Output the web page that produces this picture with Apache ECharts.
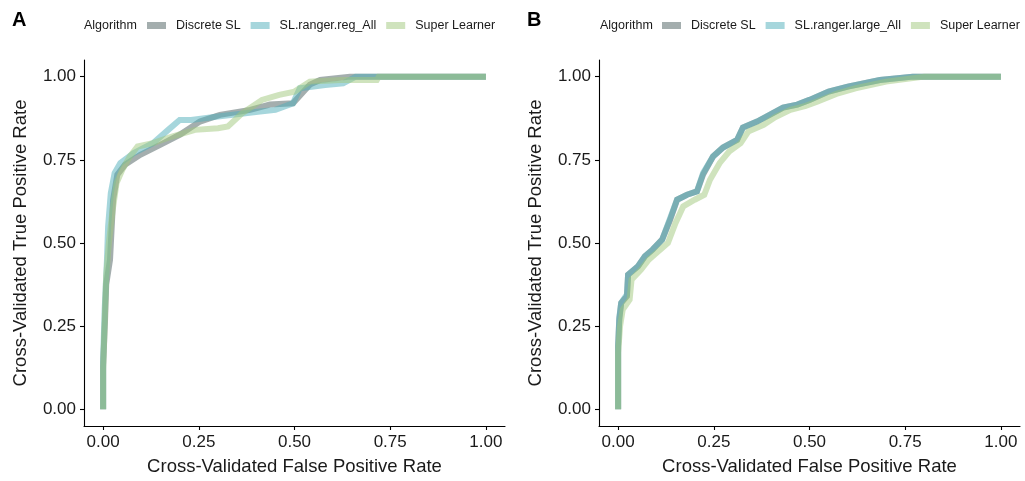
<!DOCTYPE html>
<html>
<head>
<meta charset="utf-8">
<script src="https://cdn.jsdelivr.net/npm/echarts@6/dist/echarts.min.js"></script>
<style>html,body{margin:0;padding:0;background:#fff;}#c{width:1025px;height:481px;}</style>
</head>
<body>
<div id="c"></div>
<script>
// ---- data ----
const tickValues = [0, 0.25, 0.5, 0.75, 1];
const algorithmsA = ['Discrete SL', 'SL.ranger.reg_All', 'Super Learner'];
const algorithmsB = ['Discrete SL', 'SL.ranger.large_All', 'Super Learner'];

const aDiscreteFpr = [0,0,0.005,0.008,0.018,0.026,0.037,0.057,0.097,0.149,0.201,0.253,0.305,0.384,0.436,0.496,0.54,0.567,0.645,1];
const aDiscreteTpr = [0,0.13,0.27,0.375,0.45,0.63,0.705,0.735,0.765,0.795,0.826,0.865,0.885,0.9,0.916,0.92,0.976,0.99,1,1];
const aRangerFpr = [0,0,0.004,0.01,0.013,0.02,0.03,0.045,0.08,0.13,0.17,0.2,0.23,0.3,0.41,0.45,0.496,0.514,0.58,0.627,0.66,1];
const aRangerTpr = [0,0.15,0.3,0.45,0.55,0.65,0.71,0.74,0.77,0.8,0.84,0.87,0.87,0.88,0.895,0.9,0.92,0.965,0.975,0.98,1,1];
const aSuperFpr = [0,0,0.004,0.008,0.015,0.025,0.035,0.05,0.07,0.09,0.13,0.18,0.24,0.3,0.326,0.363,0.415,0.46,0.5,0.54,0.62,0.715,0.72,1];
const aSuperTpr = [0,0.12,0.26,0.4,0.5,0.6,0.68,0.72,0.76,0.79,0.80,0.82,0.84,0.845,0.85,0.89,0.93,0.945,0.955,0.985,0.99,0.99,1,1];

const bDiscreteFpr = [0,0,0.003,0.008,0.023,0.026,0.052,0.07,0.09,0.115,0.136,0.154,0.18,0.206,0.222,0.248,0.274,0.311,0.326,0.363,0.397,0.431,0.468,0.5,0.55,0.6,0.684,0.77,1];
const bDiscreteTpr = [0,0.19,0.27,0.32,0.34,0.405,0.43,0.46,0.48,0.51,0.57,0.63,0.645,0.655,0.706,0.76,0.787,0.81,0.847,0.865,0.886,0.907,0.916,0.93,0.955,0.97,0.99,1,1];
const bRangerFpr = [0,0,0.003,0.008,0.023,0.026,0.052,0.07,0.09,0.115,0.136,0.154,0.18,0.206,0.222,0.248,0.274,0.311,0.326,0.363,0.397,0.431,0.468,0.5,0.55,0.6,0.684,0.77,1];
const bRangerTpr = [0,0.19,0.275,0.32,0.345,0.405,0.43,0.46,0.48,0.51,0.575,0.63,0.645,0.655,0.71,0.76,0.787,0.81,0.847,0.865,0.886,0.907,0.916,0.93,0.955,0.97,0.99,1,1];
const bSuperFpr = [0,0,0.005,0.012,0.03,0.035,0.06,0.08,0.1,0.13,0.15,0.17,0.2,0.225,0.24,0.265,0.29,0.32,0.34,0.38,0.41,0.45,0.49,0.52,0.57,0.62,0.7,0.8,1];
const bSuperTpr = [0,0.17,0.25,0.3,0.33,0.39,0.42,0.45,0.47,0.5,0.56,0.61,0.63,0.645,0.69,0.74,0.775,0.8,0.835,0.855,0.878,0.9,0.912,0.925,0.948,0.965,0.985,1,1];

// ---- styling ----
const FONT = '"Liberation Sans", Arial, Helvetica, sans-serif';
const colGray = 'rgba(73,93,93,0.5)';
const colBlue = 'rgba(77,173,185,0.5)';
const colGreen = 'rgba(159,199,123,0.5)';

function pairs(xs, ys) { return xs.map((x, i) => [x, ys[i]]); }

function mkX(gi) {
  return {
    type: 'value', gridIndex: gi, min: -0.05, max: 1.05,
    name: 'Cross-Validated False Positive Rate', nameLocation: 'middle', nameGap: 31,
    nameTextStyle: { fontFamily: FONT, fontSize: 18.5, color: '#1a1a1a' },
    axisLine: { show: true, onZero: false, lineStyle: { color: '#000', width: 1.1 } },
    axisTick: { show: true, length: 4, customValues: tickValues, lineStyle: { color: '#000', width: 1.1 } },
    axisLabel: { customValues: tickValues, margin: 8, fontFamily: FONT, fontSize: 17, color: '#1a1a1a',
      formatter: v => v.toFixed(2) },
    splitLine: { show: false }
  };
}
function mkY(gi) {
  return {
    type: 'value', gridIndex: gi, min: -0.05, max: 1.05,
    name: 'Cross-Validated True Positive Rate', nameLocation: 'middle', nameGap: 54, nameRotate: 90,
    nameTextStyle: { fontFamily: FONT, fontSize: 18.5, color: '#1a1a1a' },
    axisLine: { show: true, onZero: false, lineStyle: { color: '#000', width: 1.1 } },
    axisTick: { show: true, length: 4, customValues: tickValues, lineStyle: { color: '#000', width: 1.1 } },
    axisLabel: { customValues: tickValues, margin: 8, fontFamily: FONT, fontSize: 17, color: '#1a1a1a',
      formatter: v => v.toFixed(2) },
    splitLine: { show: false }
  };
}
function mkSeries(name, gi, data, color, z) {
  return {
    type: 'line', name: name, xAxisIndex: gi, yAxisIndex: gi, data: data,
    showSymbol: false, symbol: 'none', animation: false, z: z,
    color: color, itemStyle: { color: color },
    lineStyle: { color: color, width: 6, cap: 'butt', join: 'miter' }
  };
}
function mkLegend(names, left) {
  return {
    left: left, top: 19, width: 420, padding: 0, orient: 'horizontal', icon: 'rect',
    itemWidth: 19, itemHeight: 7, itemGap: 10,
    selectedMode: false,
    textStyle: { fontFamily: FONT, fontSize: 12.5, color: '#1a1a1a', padding: [0, 0, 0, 5] },
    data: names
  };
}

const option = {
  animation: false,
  backgroundColor: '#fff',
  grid: [
    { left: 84, right: 520, top: 60, bottom: 54 },
    { left: 599, right: 5, top: 60, bottom: 54 }
  ],
  xAxis: [mkX(0), mkX(1)],
  yAxis: [mkY(0), mkY(1)],
  legend: [mkLegend(algorithmsA, 147), mkLegend(algorithmsB, 662)],
  graphic: [
    { type: 'text', left: 12, top: 10, style: { text: 'A', fontFamily: FONT, fontWeight: 'bold', fontSize: 20, fill: '#000' } },
    { type: 'text', left: 527, top: 10, style: { text: 'B', fontFamily: FONT, fontWeight: 'bold', fontSize: 20, fill: '#000' } },
    { type: 'text', left: 84, top: 19, style: { text: 'Algorithm', fontFamily: FONT, fontSize: 12.5, fill: '#1a1a1a' } },
    { type: 'text', left: 600, top: 19, style: { text: 'Algorithm', fontFamily: FONT, fontSize: 12.5, fill: '#1a1a1a' } }
  ],
  series: [
    mkSeries(algorithmsA[0], 0, pairs(aDiscreteFpr, aDiscreteTpr), colGray, 2),
    mkSeries(algorithmsA[1], 0, pairs(aRangerFpr, aRangerTpr), colBlue, 3),
    mkSeries(algorithmsA[2], 0, pairs(aSuperFpr, aSuperTpr), colGreen, 4),
    mkSeries(algorithmsB[0], 1, pairs(bDiscreteFpr, bDiscreteTpr), colGray, 2),
    mkSeries(algorithmsB[1], 1, pairs(bRangerFpr, bRangerTpr), colBlue, 3),
    mkSeries(algorithmsB[2], 1, pairs(bSuperFpr, bSuperTpr), colGreen, 4)
  ]
};
const chart = echarts.init(document.getElementById('c'), null, { renderer: 'canvas' });
chart.setOption(option);
</script>
</body>
</html>
